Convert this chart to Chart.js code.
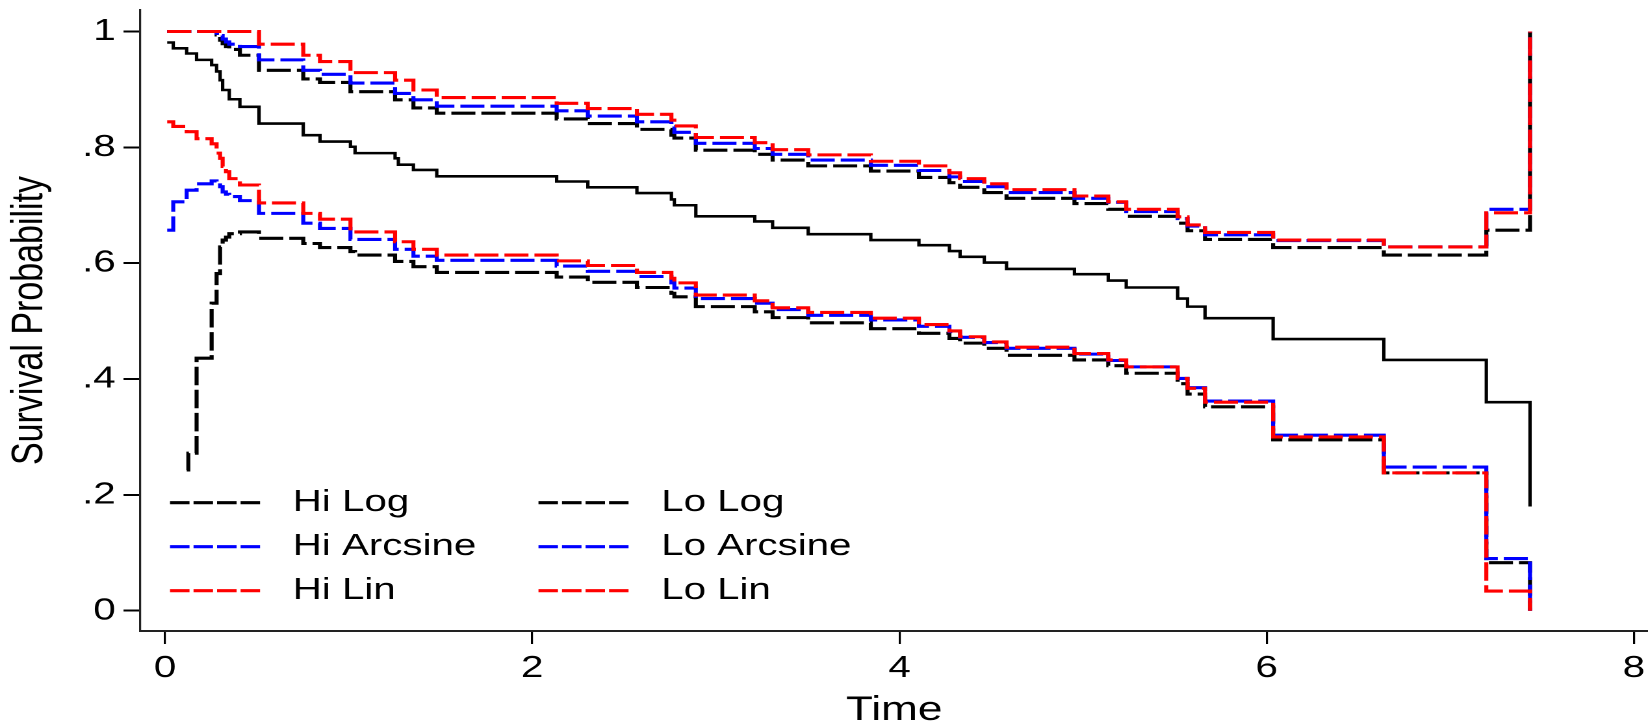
<!DOCTYPE html>
<html>
<head>
<meta charset="utf-8">
<script src="https://cdn.jsdelivr.net/npm/chart.js@4/dist/chart.umd.min.js"></script>
<style>
  html, body { margin: 0; padding: 0; background: #fff; overflow: hidden; }
  /* the original graph is stretched sideways, so the chart is drawn narrower and widened */
  #wrap { position: absolute; left: 0; top: 0; width: 1268px; height: 725px;
          transform: scaleX(1.29968); transform-origin: 0 0; }
</style>
</head>
<body>
<div id="wrap"><canvas id="km"></canvas></div>
<script>
const times = [0.012, 0.045, 0.118, 0.127, 0.172, 0.254, 0.281, 0.300, 0.314, 0.332,
  0.350, 0.408, 0.512, 0.753, 0.844, 1.010, 1.035, 1.253, 1.271, 1.353, 1.480,
  2.133, 2.303, 2.570, 2.758, 2.774, 2.891, 3.212, 3.309, 3.503, 3.844,
  4.106, 4.272, 4.330, 4.462, 4.583, 4.953, 5.137, 5.235, 5.515, 5.569,
  5.664, 6.035, 6.638, 7.196, 7.434];

const survival = [0.981, 0.971, 0.962, 0.962, 0.951, 0.942, 0.931, 0.916, 0.899, 0.899,
  0.883, 0.870, 0.841, 0.821, 0.810, 0.801, 0.790, 0.781, 0.770, 0.761, 0.750,
  0.741, 0.731, 0.721, 0.710, 0.700, 0.681, 0.672, 0.661, 0.650, 0.640,
  0.631, 0.621, 0.611, 0.601, 0.590, 0.581, 0.570, 0.558, 0.539, 0.525,
  0.505, 0.469, 0.433, 0.360, 0.180];

const hiLog = [1, 1, 1, 1, 1, 1, 0.994, 0.985, 0.979, 0.974,
  0.969, 0.959, 0.933, 0.918, 0.912, 0.896, 0.896, 0.882, 0.882, 0.868, 0.859,
  0.849, 0.841, 0.831, 0.821, 0.816, 0.795, 0.788, 0.778, 0.768, 0.759,
  0.748, 0.739, 0.731, 0.722, 0.712, 0.703, 0.693, 0.681, 0.669, 0.656,
  0.641, 0.627, 0.614, 0.657, 1];

const hiArcsine = [1, 1, 1, 1, 1, 1, 0.997, 0.993, 0.987, 0.982,
  0.978, 0.974, 0.951, 0.933, 0.926, 0.911, 0.911, 0.893, 0.893, 0.882, 0.871,
  0.863, 0.854, 0.844, 0.836, 0.826, 0.807, 0.798, 0.788, 0.778, 0.769,
  0.760, 0.749, 0.741, 0.732, 0.722, 0.712, 0.705, 0.689, 0.677, 0.664,
  0.649, 0.639, 0.628, 0.693, 1];

const hiLin = [1, 1, 1, 1, 1, 1, 1, 1, 1, 1,
  1, 1, 0.978, 0.959, 0.948, 0.929, 0.929, 0.916, 0.916, 0.899, 0.886,
  0.876, 0.867, 0.857, 0.847, 0.837, 0.817, 0.808, 0.796, 0.787, 0.776,
  0.768, 0.756, 0.746, 0.737, 0.727, 0.716, 0.706, 0.693, 0.680, 0.666,
  0.653, 0.640, 0.628, 0.687, 1];

const loLog = [null, null, 0.243, 0.272, 0.436, 0.531, 0.582, 0.628, 0.640, 0.645,
  0.651, 0.654, 0.643, 0.634, 0.627, 0.620, 0.614, 0.603, 0.603, 0.594, 0.584,
  0.576, 0.567, 0.558, 0.548, 0.542, 0.525, 0.516, 0.506, 0.497, 0.487,
  0.479, 0.470, 0.462, 0.453, 0.441, 0.433, 0.423, 0.410, 0.392, 0.374,
  0.352, 0.295, 0.238, 0.083, 0];

const loArcsine = [0.657, 0.706, 0.726, 0.726, 0.737, 0.742, 0.738, 0.732, 0.723, 0.719,
  0.715, 0.708, 0.686, 0.669, 0.660, 0.641, 0.641, 0.624, 0.624, 0.612, 0.605,
  0.595, 0.586, 0.577, 0.566, 0.557, 0.539, 0.531, 0.520, 0.510, 0.502,
  0.491, 0.482, 0.472, 0.463, 0.453, 0.443, 0.432, 0.421, 0.401, 0.385,
  0.362, 0.303, 0.248, 0.090, 0];

const loLin = [0.844, 0.836, 0.827, 0.827, 0.815, 0.806, 0.790, 0.781, 0.767, 0.758,
  0.746, 0.735, 0.704, 0.686, 0.676, 0.654, 0.654, 0.637, 0.637, 0.624, 0.614,
  0.604, 0.596, 0.584, 0.574, 0.566, 0.545, 0.535, 0.523, 0.515, 0.505,
  0.494, 0.483, 0.473, 0.464, 0.455, 0.444, 0.433, 0.421, 0.401, 0.384,
  0.360, 0.300, 0.238, 0.034, 0];

const xTicks = [0, 2, 4, 6, 8];
const yTicks = [0, 0.2, 0.4, 0.6, 0.8, 1];
const yTickLabels = ['0', '.2', '.4', '.6', '.8', '1'];

// legend is two columns of three rows, as in the original
const legendColumns = [['Hi Log', 'Hi Arcsine', 'Hi Lin'], ['Lo Log', 'Lo Arcsine', 'Lo Lin']];

const FONT = '"Liberation Sans", Arial, sans-serif';
const dash = [18.5, 4.6];

const points = vals => times.map((t, i) => ({x: t, y: vals[i]}));

const band = (label, vals, color) => ({
  label: label,
  data: points(vals),
  borderColor: color,
  borderWidth: 3.1,
  borderDash: dash,
  stepped: 'before',
  pointRadius: 0,
  fill: false,
  spanGaps: false
});

// fixed axis boxes so the plot area lands where the original has it
const fixBox = (w, h) => s => {
  if (w) s.width = w;
  if (h) s.height = h;
  s.paddingTop = 0; s.paddingBottom = 0; s.paddingLeft = 0; s.paddingRight = 0;
};

const stataLegend = {
  id: 'stataLegend',
  afterDatasetsDraw(chart) {
    const ctx = chart.ctx;
    const colX = [130.8, 414.3];
    ctx.save();
    ctx.font = '31px ' + FONT;
    ctx.textBaseline = 'middle';
    ctx.textAlign = 'left';
    legendColumns.forEach((col, c) => {
      col.forEach((label, r) => {
        const ds = chart.data.datasets.find(d => d.label === label);
        const y = 502.7 + r * 44;
        ctx.strokeStyle = ds.borderColor;
        ctx.lineWidth = 3.2;
        ctx.setLineDash([15, 3.1]);
        ctx.beginPath();
        ctx.moveTo(colX[c], y);
        ctx.lineTo(colX[c] + 69.3, y);
        ctx.stroke();
        ctx.setLineDash([]);
        ctx.fillStyle = '#000';
        ctx.fillText(label, colX[c] + 94.4, y);
      });
    });
    ctx.restore();
  }
};

new Chart(document.getElementById('km'), {
  type: 'line',
  data: {
    datasets: [
      {
        label: 'Survival',
        data: points(survival),
        borderColor: '#000000',
        borderWidth: 2.6,
        stepped: 'before',
        pointRadius: 0,
        fill: false
      },
      band('Hi Lin', hiLin, '#ff0000'),
      band('Lo Lin', loLin, '#ff0000'),
      band('Hi Arcsine', hiArcsine, '#0000ff'),
      band('Lo Arcsine', loArcsine, '#0000ff'),
      band('Hi Log', hiLog, '#000000'),
      band('Lo Log', loLog, '#000000')
    ]
  },
  options: {
    responsive: true,
    maintainAspectRatio: false,
    animation: false,
    devicePixelRatio: 2,
    layout: {autoPadding: false, padding: {top: 10, right: 0, bottom: 0, left: 0}},
    plugins: {
      legend: {display: false},
      tooltip: {enabled: false},
      title: {display: false}
    },
    scales: {
      x: {
        type: 'linear',
        min: -0.1341,
        max: 8.0766,
        afterFit: fixBox(0, 94),
        afterBuildTicks: s => { s.ticks = xTicks.map(v => ({value: v})); },
        grid: {drawOnChartArea: false, drawTicks: true, tickLength: 13, color: '#000', lineWidth: 1.6},
        border: {display: true, color: '#222', width: 2},
        ticks: {color: '#000', padding: 6, maxRotation: 0, font: {family: FONT, size: 31}},
        title: {display: true, text: 'Time', color: '#000',
                font: {family: FONT, size: 34, lineHeight: 0.85}, padding: {top: 0, bottom: 0}}
      },
      y: {
        type: 'linear',
        min: -0.035,
        max: 1.0371,
        afterFit: fixBox(108, 0),
        afterBuildTicks: s => { s.ticks = yTicks.map(v => ({value: v})); },
        grid: {drawOnChartArea: false, drawTicks: true, tickLength: 13, color: '#000', lineWidth: 2},
        border: {display: true, color: '#222', width: 1.6},
        ticks: {
          color: '#000', padding: 6, font: {family: FONT, size: 31},
          callback: v => yTickLabels[yTicks.indexOf(v)]
        },
        title: {display: true, text: 'Survival Probability', color: '#000',
                font: {family: FONT, size: 34, lineHeight: 1}, padding: {top: 6, bottom: 0}}
      }
    }
  },
  plugins: [stataLegend]
});
</script>
</body>
</html>
